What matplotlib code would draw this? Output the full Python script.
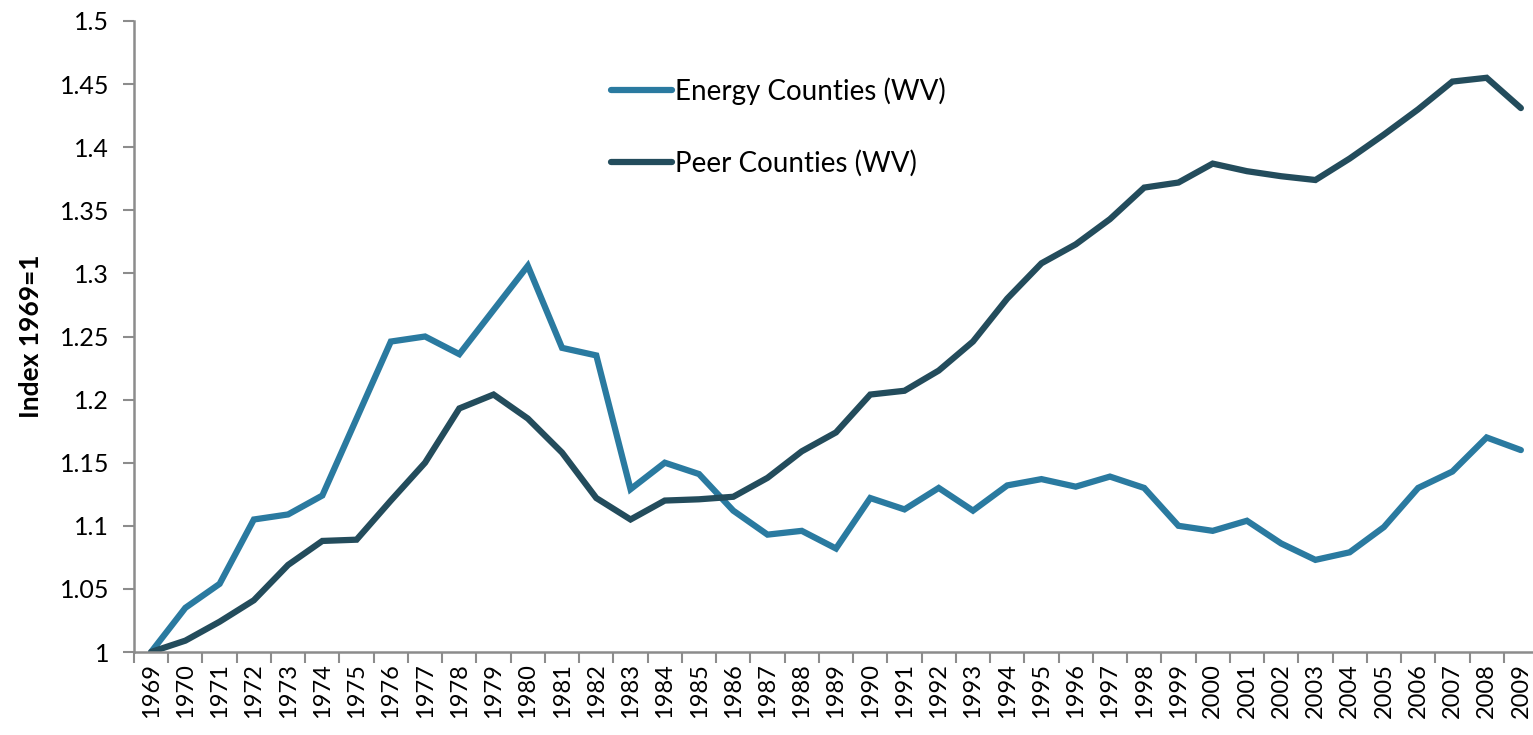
import numpy as np
import matplotlib
matplotlib.use("Agg")
import matplotlib.pyplot as plt

plt.rcParams['font.family'] = ['Lato', 'DejaVu Sans']

# years on the category axis
years = [str(y) for y in range(1969, 2010)]

# index values (1969 = 1)
energy = [1.000, 1.035, 1.054, 1.105, 1.109, 1.124, 1.185, 1.246, 1.250, 1.236,
          1.271, 1.306, 1.241, 1.235, 1.129, 1.150, 1.141, 1.112, 1.093, 1.096,
          1.082, 1.122, 1.113, 1.130, 1.112, 1.132, 1.137, 1.131, 1.139, 1.130,
          1.100, 1.096, 1.104, 1.086, 1.073, 1.079, 1.099, 1.130, 1.143, 1.170,
          1.160]
peer = [1.000, 1.009, 1.024, 1.041, 1.069, 1.088, 1.089, 1.120, 1.150, 1.193,
        1.204, 1.185, 1.158, 1.122, 1.105, 1.120, 1.121, 1.123, 1.138, 1.159,
        1.174, 1.204, 1.207, 1.223, 1.246, 1.280, 1.308, 1.323, 1.343, 1.368,
        1.372, 1.387, 1.381, 1.377, 1.374, 1.391, 1.410, 1.430, 1.452, 1.455,
        1.431]

c_energy = '#2a7aa0'
c_peer = '#234c5c'
grey = '#8c8c8c'

fig = plt.figure(figsize=(15.33, 7.35), dpi=100)
ax = fig.add_axes([134 / 1533, 83 / 735, 1404 / 1533, 631 / 735])

x = np.arange(len(years))
ax.plot(x, energy, color=c_energy, lw=4.5, solid_joinstyle='miter', solid_capstyle='round',
        label='Energy Counties (WV)')
ax.plot(x, peer, color=c_peer, lw=4.5, solid_joinstyle='miter', solid_capstyle='round',
        label='Peer Counties (WV)')

ax.set_xlim(-0.5, len(years) - 0.5)
ax.set_ylim(1.0, 1.5)
ax.set_yticks(np.arange(1.0, 1.501, 0.05))
ax.set_yticklabels(['1', '1.05', '1.1', '1.15', '1.2', '1.25', '1.3', '1.35', '1.4', '1.45', '1.5'])

ax.set_xticks(x)
ax.set_xticklabels(years, rotation=90)
ax.set_xticks(np.arange(-0.5, len(years), 1), minor=True)
ax.tick_params(axis='x', which='major', length=0, labelsize=17, pad=8)
ax.tick_params(axis='x', which='minor', length=8, width=1.5, color=grey, direction='out')
ax.tick_params(axis='y', length=8, width=1.5, color=grey, direction='out', labelsize=18, pad=10)

for s in ['top', 'right']:
    ax.spines[s].set_visible(False)
for s in ['left', 'bottom']:
    ax.spines[s].set_color(grey)
    ax.spines[s].set_linewidth(1.8)

ax.set_ylabel('Index 1969=1', fontsize=19, fontweight='bold', labelpad=12)

leg = ax.legend(loc='upper left', bbox_to_anchor=(0.322, 0.951), frameon=False, fontsize=20,
                handlelength=2.2, handletextpad=0.1, labelspacing=1.63)

fig.savefig('out.png', dpi=100)
